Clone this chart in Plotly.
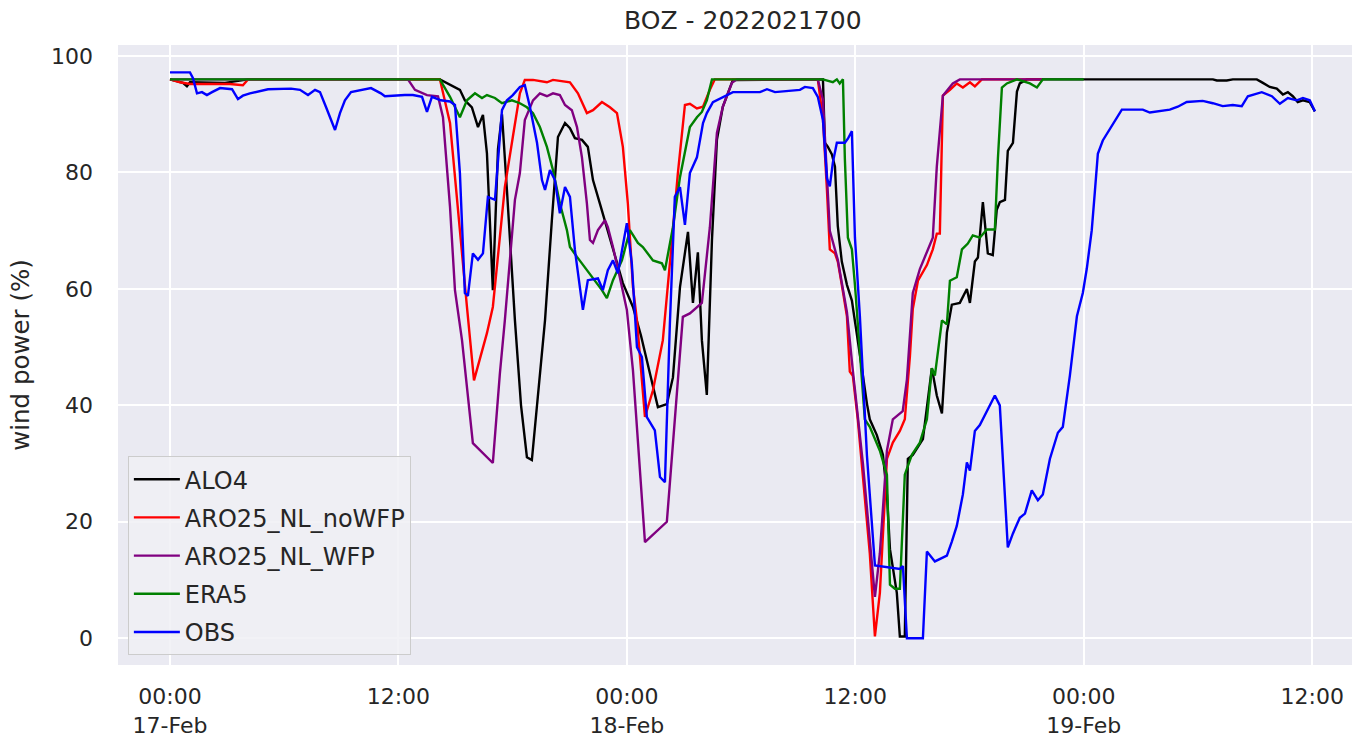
import pandas as pd
import plotly.graph_objects as go

base = pd.Timestamp("2022-02-17 00:00")

# ---- data (hours since 17-Feb 00:00, wind power %) ----
alo4_h = [0, 0.68, 0.89, 1.05, 2.89, 4.10, 14.18, 14.6, 15.23, 15.49, 15.86, 16.18, 16.44, 16.65, 16.96,
          17.23, 17.44, 17.70, 18.12, 18.44, 18.75, 19.01, 19.33, 19.70, 20.06, 20.38, 20.75, 21.01, 21.27,
          21.64, 21.95, 22.22, 22.58, 22.95, 23.37, 23.79, 24.32, 24.74, 25.21, 25.63, 26.10, 26.42, 26.79,
          27.21, 27.47, 27.73, 27.94, 28.20, 28.47, 28.73, 29.04, 29.57, 34.30, 34.40, 34.56, 34.77, 34.93,
          35.08, 35.29, 35.56, 35.82, 36.08, 36.40, 36.61, 36.76, 37.13, 37.45, 37.66, 37.82, 38.18, 38.34,
          38.60, 38.76, 39.02, 39.55, 40.02, 40.28, 40.55, 40.81, 41.07, 41.49, 41.86, 42.02, 42.28, 42.44,
          42.70, 42.96, 43.22, 43.43, 43.59, 43.86, 44.01, 44.28, 44.49, 44.64, 45.01, 54.78, 54.99, 55.51,
          55.83, 57.09, 57.41, 57.77, 58.14, 58.46, 58.72, 58.98, 59.24, 59.51, 59.87, 60.14]
alo4_v = [96.0, 95.4, 94.8, 95.5, 95.4, 96.0, 96.0, 95.3, 94.2, 92.4, 91.2, 87.8, 89.9, 83.3, 59.8,
          84.0, 90.0, 77.0, 54.6, 40.0, 31.1, 30.6, 42.0, 54.6, 71.8, 86.1, 88.5, 87.6, 85.9,
          85.6, 84.4, 78.7, 74.7, 70.6, 65.5, 61.0, 56.9, 52.0, 45.5, 39.7, 40.2, 44.8, 60.3,
          69.8, 57.6, 66.3, 51.2, 41.8, 68.4, 85.6, 91.3, 95.9, 96.0, 85.1, 84.4, 83.1, 81.0,
          70.8, 64.7, 60.7, 58.0, 52.5, 45.1, 40.3, 37.6, 34.9, 31.5, 24.7, 15.3, 7.8, 0.3,
          0.3, 30.8, 31.5, 34.2, 46.4, 41.7, 38.6, 52.5, 57.3, 57.6, 60.0, 57.6, 64.7, 65.4,
          74.9, 66.1, 65.8, 73.6, 74.9, 75.3, 83.7, 85.1, 93.9, 95.3, 96.0, 96.0, 95.8, 95.8,
          96.0, 96.0, 95.4, 94.7, 94.4, 93.4, 93.8, 93.1, 92.1, 92.4, 92.1, 90.5]

nowfp_h = [0, 0.53, 1.05, 3.15, 3.83, 4.10, 14.18, 14.71, 15.60, 15.97, 16.65, 16.96, 17.17, 17.59, 18.01,
           18.38, 18.64, 19.07, 19.80, 20.12, 21.01, 21.43, 21.90, 22.22, 22.69, 23.11, 23.48, 23.79, 24.05,
           24.32, 24.53, 24.68, 24.95, 25.37, 25.89, 26.37, 26.68, 27.05, 27.31, 27.68, 28.00, 28.36, 28.62,
           34.03, 34.30, 34.51, 34.66, 34.93, 35.08, 35.29, 35.56, 35.71, 35.87, 36.13, 36.40, 36.76, 37.03,
           37.29, 37.66, 37.97, 38.34, 38.60, 38.87, 39.02, 39.29, 39.76, 40.07, 40.28, 40.44, 40.60, 40.97,
           41.33, 41.65, 42.02, 42.28, 42.65, 45.80]
nowfp_v = [96.0, 95.5, 95.2, 95.2, 95.0, 96.0, 96.0, 88.5, 56.9, 44.3, 52.4, 56.9, 63.7, 77.5, 86.1,
           93.6, 95.9, 95.9, 95.5, 95.9, 95.5, 93.6, 90.2, 90.7, 92.1, 91.2, 90.2, 84.4, 74.7,
           60.3, 54.6, 48.3, 38.0, 42.6, 51.2, 68.4, 79.9, 91.6, 91.8, 91.0, 91.3, 94.2, 96.0,
           96.0, 89.2, 77.0, 66.8, 66.1, 64.7, 60.7, 55.3, 45.8, 45.1, 37.6, 28.1, 14.6, 0.3,
           7.8, 30.8, 33.6, 35.6, 37.6, 48.5, 56.6, 61.4, 64.1, 66.8, 69.5, 69.5, 93.2, 94.2,
           95.3, 94.6, 95.5, 94.8, 96.0, 96.0]

wfp_h = [0, 12.50, 12.87, 13.50, 14.08, 14.34, 14.71, 14.97, 15.34, 15.91, 16.96, 17.33, 17.59, 17.86, 18.12,
         18.38, 18.64, 19.07, 19.43, 19.80, 20.12, 20.48, 20.75, 21.11, 21.38, 21.64, 21.90, 22.06, 22.22,
         22.48, 22.85, 23.00, 23.27, 23.63, 24.00, 24.32, 24.68, 24.95, 26.10, 26.94, 27.31, 27.68, 27.94,
         28.36, 28.73, 29.04, 29.52, 29.78, 34.03, 34.30, 34.51, 34.66, 35.08, 35.56, 35.87, 36.40, 37.03,
         37.29, 37.66, 37.97, 38.49, 38.71, 39.02, 39.39, 40.07, 40.28, 40.60, 41.12, 41.49, 45.80]
wfp_v = [96.0, 96.0, 94.2, 93.3, 93.1, 89.5, 74.1, 59.8, 51.2, 33.5, 30.1, 45.5, 54.6, 65.5, 75.3,
         79.9, 89.0, 92.4, 93.6, 93.1, 93.6, 93.3, 91.6, 90.7, 87.8, 82.6, 74.7, 68.4, 67.9,
         70.1, 71.8, 70.6, 67.2, 62.0, 56.4, 46.0, 30.0, 16.5, 20.0, 55.2, 55.8, 56.9, 57.6,
         70.6, 86.8, 91.3, 95.4, 96.0, 96.0, 92.5, 79.0, 70.0, 65.0, 56.0, 46.0, 30.0, 7.1,
         14.6, 32.2, 37.6, 39.0, 44.4, 59.3, 63.4, 68.8, 81.0, 93.2, 95.3, 96.0, 96.0]

era5_h = [0, 14.18, 14.71, 15.23, 15.60, 16.02, 16.39, 16.65, 17.07, 17.44, 17.96, 18.38, 18.75, 19.07, 19.43,
          19.80, 20.12, 20.48, 20.85, 21.01, 21.38, 21.90, 22.22, 22.69, 22.95, 23.27, 23.74, 24.16, 24.58,
          24.84, 25.37, 25.84, 26.00, 26.42, 26.79, 27.31, 27.68, 27.94, 28.20, 28.47, 34.30, 34.82, 35.03,
          35.18, 35.35, 35.45, 35.61, 35.82, 35.98, 36.24, 36.50, 36.76, 37.29, 37.66, 37.82, 38.08, 38.34,
          38.60, 38.97, 39.39, 39.76, 40.02, 40.18, 40.55, 40.81, 40.97, 41.33, 41.60, 41.91, 42.17, 42.54,
          42.91, 43.33, 43.49, 43.70, 43.96, 44.49, 45.17, 45.54, 45.85, 48.0]
era5_v = [96.0, 96.0, 93.0, 89.5, 92.4, 93.6, 92.8, 93.3, 92.8, 91.9, 92.4, 91.9, 91.2, 90.2, 87.8,
          84.4, 80.4, 74.7, 70.1, 67.2, 65.5, 63.2, 62.0, 59.8, 58.4, 61.5, 64.9, 70.1, 67.9,
          67.2, 64.9, 64.4, 63.2, 70.6, 79.2, 87.8, 89.5, 90.4, 92.4, 96.0, 96.0, 95.5, 96.0,
          95.3, 96.0, 82.4, 68.8, 66.8, 60.7, 48.5, 37.6, 36.3, 32.2, 28.1, 9.2, 8.5, 8.5,
          28.1, 31.5, 33.6, 37.6, 46.4, 45.1, 54.6, 53.9, 61.4, 62.0, 66.8, 67.8, 69.2, 68.8,
          70.2, 70.2, 82.4, 94.6, 95.3, 96.0, 95.3, 94.6, 96.0, 96.0]

obs_h = [0, 1.05, 1.21, 1.42, 1.68, 1.94, 2.21, 2.63, 3.26, 3.57, 3.83, 4.20, 5.15, 6.36, 6.83,
         7.25, 7.62, 7.88, 8.19, 8.67, 8.93, 9.19, 9.51, 10.56, 11.08, 11.29, 12.34, 12.76, 13.24,
         13.50, 13.76, 14.23, 14.71, 14.97, 15.23, 15.49, 15.65, 15.91, 16.18, 16.44, 16.70, 17.07, 17.44,
         17.70, 18.01, 18.38, 18.64, 18.91, 19.28, 19.54, 19.70, 19.96, 20.22, 20.48, 20.75, 21.01, 21.27,
         21.53, 21.69, 21.95, 22.48, 22.74, 23.00, 23.27, 23.53, 24.00, 24.26, 24.53, 24.79, 25.05, 25.47,
         25.74, 26.00, 26.26, 26.52, 26.79, 27.05, 27.31, 27.68, 28.00, 28.20, 28.52, 29.25, 29.57, 30.99,
         31.36, 31.78, 33.09, 33.35, 33.77, 34.03, 34.30, 34.51, 34.66, 34.82, 35.03, 35.45, 35.61, 35.82,
         35.98, 36.24, 36.61, 37.03, 38.34, 38.50, 38.71, 39.55, 39.76, 40.18, 40.81, 41.07, 41.33, 41.65,
         41.86, 42.02, 42.28, 42.54, 42.91, 43.33, 43.59, 44.01, 44.28, 44.64, 44.91, 45.27, 45.59, 45.85,
         46.22, 46.64, 46.90, 47.27, 47.64, 47.95, 48.16, 48.42, 48.58, 48.74, 49.00, 49.37, 49.63, 50.00,
         51.10, 51.47, 52.52, 52.94, 53.41, 54.25, 54.78, 55.30, 55.83, 56.30, 56.62, 57.35, 57.88, 58.30,
         58.72, 59.19, 59.51, 59.87, 60.14]
obs_v = [97.2, 97.2, 96.2, 93.6, 93.8, 93.3, 93.8, 94.5, 94.3, 92.6, 93.2, 93.6, 94.3, 94.4, 94.2,
         93.3, 94.2, 93.8, 91.3, 87.3, 90.2, 92.4, 93.8, 94.5, 93.6, 93.1, 93.3, 93.3, 93.0,
         90.4, 93.0, 92.4, 92.2, 91.6, 79.9, 59.3, 58.8, 66.1, 65.0, 66.1, 75.8, 75.3, 90.7,
         92.4, 93.3, 94.7, 95.0, 91.2, 85.1, 78.7, 77.0, 80.4, 78.7, 73.0, 77.5, 75.8, 66.7,
         59.8, 56.4, 61.5, 61.8, 59.8, 63.2, 64.9, 62.7, 71.3, 64.4, 50.0, 48.3, 38.0, 35.7,
         27.7, 26.8, 54.1, 75.8, 77.5, 71.0, 79.9, 82.6, 88.5, 90.2, 92.1, 93.3, 93.8, 93.8,
         94.3, 93.8, 94.2, 94.7, 94.5, 93.0, 89.0, 79.0, 77.6, 81.7, 85.1, 85.1, 85.8, 87.1,
         68.8, 55.3, 31.4, 12.5, 11.9, 12.4, 0.0, 0.0, 14.9, 13.2, 14.2, 16.6, 19.3, 24.7,
         30.2, 28.8, 35.6, 36.6, 39.0, 41.7, 40.0, 15.6, 18.0, 20.7, 21.4, 25.4, 23.7, 24.7,
         30.8, 35.3, 36.3, 45.1, 55.3, 59.3, 63.5, 70.1, 76.6, 83.2, 85.5, 87.5, 88.8, 90.8,
         90.8, 90.3, 90.8, 91.3, 92.1, 92.3, 91.9, 91.4, 91.6, 91.4, 93.1, 93.8, 93.1, 91.8,
         92.8, 92.4, 92.8, 92.4, 90.5]

series = [
    ("ALO4", alo4_h, alo4_v, "black"),
    ("ARO25_NL_noWFP", nowfp_h, nowfp_v, "red"),
    ("ARO25_NL_WFP", wfp_h, wfp_v, "purple"),
    ("ERA5", era5_h, era5_v, "green"),
    ("OBS", obs_h, obs_v, "blue"),
]

tick_hours = [0, 12, 24, 36, 48, 60]
tick_text = ["00:00<br>17-Feb", "12:00", "00:00<br>18-Feb", "12:00", "00:00<br>19-Feb", "12:00"]
y_ticks = [0, 20, 40, 60, 80, 100]


def to_time(hours):
    return [base + pd.Timedelta(hours=h) for h in hours]


fig = go.Figure()
for i, (name, hh, vv, col) in enumerate(series):
    fig.add_trace(go.Scatter(x=to_time(hh), y=vv, mode="lines", name=name,
                             legendgroup=str(i),
                             line=dict(color=col, width=2.4)))

txt = "#262626"
font = "DejaVu Sans, Liberation Sans, sans-serif"
fig.update_layout(
    width=1363, height=740,
    margin=dict(l=118, r=11, t=45, b=75),
    paper_bgcolor="white",
    plot_bgcolor="#EAEAF2",
    font=dict(family=font, size=22, color=txt),
    title=dict(text="BOZ - 2022021700", x=0.545, xanchor="center", y=0.972, yanchor="middle",
               font=dict(size=25, color=txt)),
    showlegend=True,
    legend=dict(x=0.008, y=0.016, xanchor="left", yanchor="bottom",
                bgcolor="rgba(240,240,245,0.85)", bordercolor="#CCCCCC", borderwidth=1,
                font=dict(size=24, color=txt), tracegroupgap=4, traceorder="grouped",
                itemwidth=46),
)
fig.update_xaxes(
    type="date", automargin=False,
    range=[base + pd.Timedelta(hours=-2.73), base + pd.Timedelta(hours=62.09)],
    tickvals=to_time(tick_hours), ticktext=tick_text,
    showgrid=True, gridcolor="white", gridwidth=1.6,
    zeroline=False, showline=False, ticks="", ticklabelstandoff=16,
    tickfont=dict(size=22, color=txt),
)
fig.update_yaxes(
    range=[-4.6, 101.9], automargin=False,
    tickvals=y_ticks,
    showgrid=True, gridcolor="white", gridwidth=1.6,
    zeroline=False, showline=False, ticks="", ticklabelstandoff=24,
    title=dict(text="wind power (%)", font=dict(size=24.5, color=txt), standoff=14),
    tickfont=dict(size=22, color=txt),
)

fig.write_html("out.html")
